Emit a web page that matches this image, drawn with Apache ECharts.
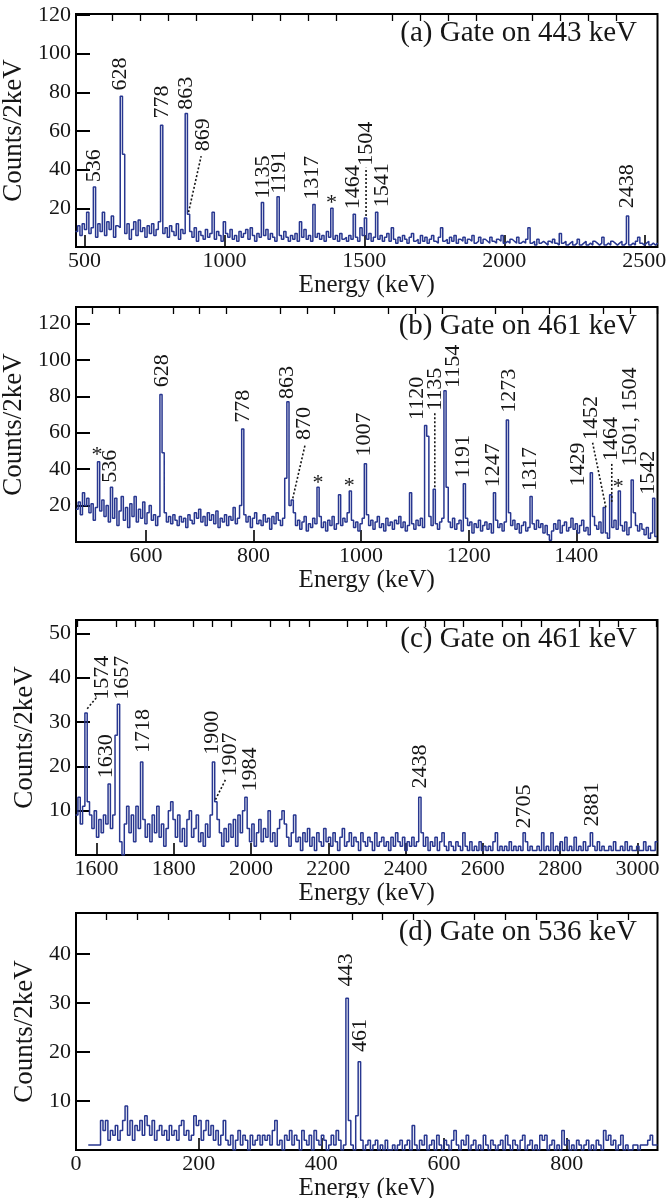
<!DOCTYPE html>
<html>
<head>
<meta charset="utf-8">
<script src="https://cdn.jsdelivr.net/npm/echarts@6/dist/echarts.min.js"></script>
<style>
  html, body { margin: 0; padding: 0; background: #fff; }
  #chart { width: 671px; height: 1198px; }
</style>
</head>
<body>
<div id="chart"></div>
<script>
// Gamma-ray coincidence spectra, four gates. Counts per bin, bins start at start*, width bin* keV.

// ---- (a) gate on 443 keV ----
const startA = 468, binA = 8;
const countsA = [
  8,11,6,12,9,18,7,10,9,5,
  12,8,18,6,13,9,16,5,11,10,
  9,48,7,12,4,9,13,6,14,8,
  10,5,11,7,12,6,9,13,8,7,
  10,5,11,8,6,12,4,9,7,9,
  9,8,5,10,3,8,6,4,9,5,
  7,18,4,8,6,3,13,7,5,9,
  4,6,3,8,5,7,9,4,10,6,
  3,7,5,6,6,9,4,7,5,3,
  6,6,4,8,5,3,6,4,7,3,
  13,5,9,4,6,3,5,5,7,4,
  6,3,8,5,4,4,6,3,7,4,
  5,3,6,4,5,5,3,10,6,4,
  4,7,3,5,4,4,6,3,5,7,
  3,10,4,2,5,3,6,4,2,5,
  7,3,4,2,6,3,5,2,4,6,
  3,2,5,10,3,4,2,5,3,6,
  2,4,3,5,2,4,3,6,2,3,
  5,2,4,3,2,5,3,2,4,3,
  6,2,3,2,4,3,2,5,2,3,
  2,4,10,2,3,1,4,2,3,2,
  1,3,2,4,2,1,7,2,3,1,
  2,3,1,2,4,1,2,3,1,2,
  1,3,2,1,2,5,1,2,1,3,
  2,1,2,3,1,2,2,1,2,1,
  3,5,2,1,2,3,1,2,1,2
];
// labelled transitions: [energy keV, counts]
const linesA = [[536,31],[628,78],[778,63],[863,69],[869,17],[1135,23],[1191,26],
  [1317,22],[1464,17],[1504,15],[1541,18],[2438,16]];
// contaminant lines marked with *
const starsA = [[1383,20]];
const xTicksA = [500, 1000, 1500, 2000, 2500];
const yTicksA = [20, 40, 60, 80, 100, 120];

// ---- (b) gate on 461 keV, low energy part ----
const startB = 470, binB = 4;
const countsB = [
  18,22,15,27,20,24,16,21,12,19,
  26,17,23,14,20,11,18,13,24,9,
  17,25,12,19,8,21,14,25,11,18,
  13,22,10,16,20,12,15,9,14,14,
  49,16,11,14,10,15,12,9,14,11,
  13,8,15,12,10,16,13,18,11,14,
  9,16,12,15,10,17,8,13,11,15,
  9,14,12,19,10,13,20,12,15,11,
  14,8,13,16,10,12,9,15,11,13,
  7,14,10,16,12,9,13,35,12,20,
  12,16,9,12,7,11,14,6,10,8,
  13,10,12,14,8,11,6,12,9,14,
  7,10,26,9,13,11,16,12,12,8,
  11,6,10,13,12,15,9,12,7,11,
  14,8,10,6,13,9,11,7,12,10,
  14,8,11,6,9,27,10,7,12,9,
  13,8,10,58,14,9,12,10,7,11,
  13,12,30,11,8,13,7,10,12,6,
  12,13,9,11,5,10,8,12,6,9,
  11,7,10,5,12,12,8,10,6,11,
  14,16,9,12,7,10,5,9,11,6,
  8,9,10,7,12,8,10,5,9,4,
  1,6,10,7,12,5,9,11,6,8,
  13,7,10,5,9,12,6,8,4,10,
  14,9,7,11,5,3,5,2,10,8,
  12,7,7,9,6,11,4,8,10,16,
  9,6,10,7,4,8,2,5,6,3
];
const linesB = [[536,30],[628,81],[778,62],[863,77],[870,23],[1007,43],[1120,64],
  [1135,29],[1154,83],[1191,32],[1247,27],[1273,67],[1317,25],[1429,38],[1452,19],
  [1464,26],[1504,34,'1501, 1504'],[1542,24]];
const starsB = [[511,44],[920,30],[978,28],[1478,28]];
const xTicksB = [600, 800, 1000, 1200, 1400];
const yTicksB = [20, 40, 60, 80, 100, 120];

// ---- (c) gate on 461 keV, high energy part ----
const startC = 1546, binC = 6;
const countsC = [
  9,13,7,11,8,12,9,6,10,4,
  8,5,9,7,6,6,9,27,4,3,
  0,7,11,5,9,3,11,6,8,8,
  4,7,3,9,5,11,4,7,2,6,
  10,12,8,4,9,3,6,2,8,10,
  4,6,9,3,5,2,7,4,9,9,
  8,8,5,2,6,3,7,4,8,2,
  9,5,10,6,6,3,7,2,5,8,
  3,6,4,10,3,5,2,6,8,10,
  7,4,2,5,9,3,4,1,5,3,
  6,2,4,1,5,3,2,6,3,4,
  2,5,3,1,4,6,2,3,5,2,
  4,3,1,5,3,2,4,3,1,5,
  2,3,4,2,3,1,4,2,5,3,
  2,4,1,3,2,4,2,3,5,5,
  2,4,1,3,2,4,1,3,5,2,
  1,3,2,1,3,2,1,5,2,1,
  3,1,2,1,3,1,2,1,2,1,
  3,5,1,2,1,2,1,3,1,2,
  1,2,1,1,3,1,2,1,1,2,
  1,5,1,2,1,5,1,2,1,3,
  1,4,1,2,1,4,1,2,1,3,
  1,2,1,2,1,3,1,2,1,1,
  2,1,3,1,1,2,1,3,1,2,
  1,1,2,1,1,3,1,2,1,1,
  3
];
const linesC = [[1574,32],[1630,16],[1657,34],[1718,21],[1900,21],[1907,12],[1984,13],
  [2438,13],[2705,5],[2881,5]];
const starsC = [];
const xTicksC = [1600, 1800, 2000, 2200, 2400, 2600, 2800, 3000];
const yTicksC = [10, 20, 30, 40, 50];

// ---- (d) gate on 536 keV ----
const startD = 20, binD = 4;
const countsD = [
  1,1,1,1,1,6,4,6,2,4,
  3,5,2,4,6,9,3,6,2,5,
  4,6,3,7,5,3,6,2,4,5,
  3,4,2,5,3,4,2,5,6,3,
  4,2,3,7,5,6,2,4,6,3,
  5,2,4,1,3,6,2,1,3,0,
  2,4,1,3,2,0,3,1,2,3,
  1,3,2,3,1,4,6,1,2,0,
  3,2,4,1,3,2,0,4,2,1,
  3,0,4,2,1,3,2,0,1,3,
  1,4,2,0,1,2,6,1,0,7,
  2,2,0,1,2,0,1,2,0,1,
  0,2,0,0,1,0,1,2,0,1,
  2,0,5,1,0,2,1,3,0,1,
  2,0,3,1,0,2,1,0,2,4,
  1,0,2,1,3,0,1,2,0,1,
  0,3,1,0,2,1,0,1,2,0,
  3,1,0,2,1,0,2,3,0,1,
  2,0,1,0,3,2,3,0,1,2,
  0,1,0,4,1,2,0,1,0,2,
  1,0,1,2,0,1,0,2,1,0,
  4,2,3,1,2,0,1,3,0,1,
  0,0,1,1,0,1,1,1,2,3,
  1,1
];
const linesD = [[443,31],[461,18]];
const starsD = [];
const xTicksD = [0, 200, 400, 600, 800];
const yTicksD = [10, 20, 30, 40];

// ---- annotation placement: energy key -> [x keV, y counts, leader from, leader to] ----
const tagPosA = {
  536: [536, 33.5], 628: [629, 81], 778: [779, 66.5], 863: [864, 71],
  869: [925, 49.5, [872, 18], [917, 47]],
  1135: [1137, 25], 1191: [1195, 27.5], 1317: [1314, 24.5], 1464: [1461, 19.5],
  1504: [1507, 42, [1506, 16], [1506, 41]], 1541: [1562, 20.5], 2438: [2438, 20]
};
const starPosA = { 1383: [1383, 24.5] };
const tagPosB = {
  536: [534, 32.5], 628: [630, 85], 778: [780, 65.5], 863: [862, 78.5],
  870: [894, 56, [873, 24], [896, 53.5]],
  1007: [1005, 47], 1120: [1104, 67], 1135: [1137, 72, [1137, 30], [1137, 71.5]],
  1154: [1171, 84.6], 1191: [1190, 35], 1247: [1246, 30], 1273: [1275, 71],
  1317: [1315, 28], 1429: [1404, 30.5], 1452: [1428, 56, [1455, 19], [1430, 55]],
  1464: [1465, 44.5, [1466, 22], [1466, 44]], 1504: [1500, 41.5], 1542: [1534, 26]
};
const starPosB = { 511: [509, 50], 920: [920, 34.2], 978: [978, 32.7], 1478: [1478, 32.4] };
const tagPosC = {
  1574: [1614, 35, [1576, 33], [1600, 35.5]], 1630: [1626, 17.3], 1657: [1666, 35],
  1718: [1721, 23], 1900: [1899, 22.6], 1907: [1945, 17.7, [1908, 12.5], [1934, 17]],
  1984: [1998, 14.3], 2438: [2439, 15], 2705: [2708, 6], 2881: [2882, 6.4]
};
const tagPosD = { 443: [441, 33.4], 461: [463, 20] };

const SERIF = "'Liberation Serif', 'DejaVu Serif', 'Times New Roman', serif";
const INK = '#161616';
const TRACE = '#283790';

const panels = [
  { title: '(a) Gate on 443 keV', start: startA, bin: binA, counts: countsA, lines: linesA, stars: starsA,
    tags: tagPosA, starTags: starPosA, xMin: 470, xMax: 2547, yMax: 120.5,
    xTicks: xTicksA, minorStep: 100, yTicks: yTicksA, top: 14, height: 233 },
  { title: '(b) Gate on 461 keV', start: startB, bin: binB, counts: countsB, lines: linesB, stars: starsB,
    tags: tagPosB, starTags: starPosB, xMin: 470, xMax: 1551, yMax: 129,
    xTicks: xTicksB, minorStep: 50, yTicks: yTicksB, top: 307, height: 235 },
  { title: '(c) Gate on 461 keV', start: startC, bin: binC, counts: countsC, lines: linesC, stars: starsC,
    tags: tagPosC, starTags: {}, xMin: 1547, xMax: 3052, yMax: 53,
    xTicks: xTicksC, minorStep: 50, yTicks: yTicksC, top: 620, height: 235 },
  { title: '(d) Gate on 536 keV', start: startD, bin: binD, counts: countsD, lines: linesD, stars: starsD,
    tags: tagPosD, starTags: {}, xMin: 0, xMax: 948, yMax: 48.4,
    xTicks: xTicksD, minorStep: 50, yTicks: yTicksD, top: 913, height: 237 }
];

const LEFT = 76, RIGHT = 13.5;
const plain = v => String(v);

// histogram points: background bins with the labelled lines placed in their bins
function spectrum(p) {
  const v = p.counts.slice();
  p.lines.concat(p.stars).forEach(([e, c]) => {
    const i = Math.floor((e - p.start) / p.bin);
    if (i >= 0 && i < v.length) v[i] = c;
  });
  const pts = v.map((c, i) => [p.start + p.bin * (i + 0.5), c]);
  pts.unshift([p.start, v[0]]);
  pts.push([p.start + p.bin * v.length, v[v.length - 1]]);
  return pts;
}

function minorTicks(p) {
  const out = [];
  for (let v = Math.ceil(p.xMin / p.minorStep) * p.minorStep; v <= p.xMax; v += p.minorStep) {
    if (p.xTicks.indexOf(v) < 0) out.push(v);
  }
  return out;
}

// peak labels (rotated), asterisks and dotted leader lines
function notes(p, gi) {
  const items = [];
  p.lines.forEach(([e, c, txt]) => {
    const t = p.tags[e] || [e, c + 3];
    items.push({ kind: 'tag', text: txt || String(e), at: [t[0], t[1]], lead: t[2] ? [t[2], t[3]] : null });
  });
  p.stars.forEach(([e, c]) => {
    items.push({ kind: 'star', at: p.starTags[e] || [e, c + 4] });
  });
  return {
    type: 'custom', coordinateSystem: 'cartesian2d', xAxisIndex: gi * 2, yAxisIndex: gi,
    silent: true, clip: false, z: 10,
    data: items.map(d => d.at),
    renderItem: (params, api) => {
      const d = items[params.dataIndex];
      const pt = api.coord(d.at);
      const kids = [];
      if (d.lead) {
        const a = api.coord(d.lead[0]), b = api.coord(d.lead[1]);
        kids.push({ type: 'line', shape: { x1: a[0], y1: a[1], x2: b[0], y2: b[1] },
          style: { stroke: INK, lineWidth: 1.6, lineDash: [2, 2] } });
      }
      if (d.kind === 'star') {
        kids.push({ type: 'text', x: pt[0], y: pt[1] + 4,
          style: { text: '*', fontSize: 22, fontFamily: SERIF, fill: INK, align: 'center', verticalAlign: 'middle' } });
      } else {
        kids.push({ type: 'text', x: pt[0], y: pt[1], rotation: Math.PI / 2,
          style: { text: d.text, fontSize: 22, fontFamily: SERIF, fill: INK, align: 'left', verticalAlign: 'middle' } });
      }
      return { type: 'group', children: kids };
    }
  };
}

const grid = [], xAxis = [], yAxis = [], series = [], title = [];
panels.forEach((p, gi) => {
  grid.push({ left: LEFT, right: RIGHT, top: p.top, height: p.height, show: true,
    borderColor: '#000', borderWidth: 2, backgroundColor: 'transparent', outerBoundsMode: 'none' });
  xAxis.push({
    type: 'value', gridIndex: gi, min: p.xMin, max: p.xMax,
    name: 'Energy (keV)', nameLocation: 'middle', nameGap: 24,
    nameTextStyle: { fontFamily: SERIF, fontSize: 25, color: INK },
    axisLine: { show: false },
    axisTick: { show: true, inside: true, length: 12, customValues: p.xTicks, lineStyle: { color: '#000', width: 1.6 } },
    axisLabel: { show: true, customValues: p.xTicks, formatter: plain, margin: 3, fontFamily: SERIF, fontSize: 22, color: INK },
    splitLine: { show: false }
  });
  xAxis.push({
    type: 'value', gridIndex: gi, min: p.xMin, max: p.xMax,
    axisLine: { show: false }, axisLabel: { show: false }, splitLine: { show: false },
    axisTick: { show: true, inside: true, length: 7, customValues: minorTicks(p), lineStyle: { color: '#000', width: 1.3 } }
  });
  yAxis.push({
    type: 'value', gridIndex: gi, min: 0, max: p.yMax,
    name: 'Counts/2keV', nameLocation: 'middle', nameGap: 38,
    nameTextStyle: { fontFamily: SERIF, fontSize: 27, color: INK },
    axisLine: { show: false },
    axisTick: { show: true, inside: true, length: 14, customValues: p.yTicks, lineStyle: { color: '#000', width: 2 } },
    axisLabel: { show: true, customValues: p.yTicks, formatter: plain, margin: 5, fontFamily: SERIF, fontSize: 22, color: INK },
    splitLine: { show: false }
  });
  series.push({
    type: 'line', xAxisIndex: gi * 2, yAxisIndex: gi, step: 'middle', showSymbol: false, silent: true,
    data: spectrum(p), lineStyle: { color: TRACE, width: 1.5 }, animation: false, z: 3
  });
  series.push(notes(p, gi));
  title.push({ text: p.title, right: 34, top: p.top + 5, padding: 0,
    textStyle: { fontFamily: SERIF, fontSize: 29, fontWeight: 'normal', color: INK } });
});

const chart = echarts.init(document.getElementById('chart'), null, { renderer: 'canvas' });
chart.setOption({ animation: false, backgroundColor: '#fff', title, grid, xAxis, yAxis, series });
</script>
</body>
</html>
